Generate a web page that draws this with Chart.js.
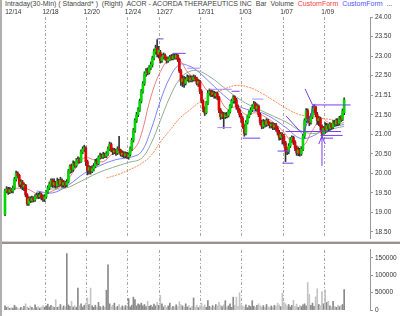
<!DOCTYPE html>
<html>
<head>
<meta charset="utf-8">
<script src="https://cdn.jsdelivr.net/npm/chart.js@4.4.1/dist/chart.umd.min.js"></script>
<style>
  body { margin: 0; width: 400px; height: 316px; position: relative; overflow: hidden; background: #fff; }
  #title { position: absolute; left: 5px; top: 0; font: 7px 'Liberation Sans', Arial, sans-serif; line-height: 8px; color: #444; white-space: nowrap; }
  #title .r { color: #ff3b3b; }
  #title .b { color: #5050ff; }
  canvas { position: absolute; left: 0; }
  #price { top: 0; }
  #volume { top: 244px; }
  .sep { position: absolute; left: 0; width: 400px; top: 241px; height: 1px; background: #d8d4d0; }
  .sep2 { position: absolute; left: 0; width: 400px; top: 242px; height: 2px; background: #9b938b; }
  .lft { position: absolute; left: 0; top: 0; width: 2px; height: 316px; background: #b0b0b0; }
</style>
</head>
<body>
<div id="title">Intraday(30-Min) ( Standard* )&nbsp; (Right)&nbsp; ACOR - ACORDA THERAPEUTICS INC&nbsp; Bar&nbsp; Volume&nbsp; <span class="r">CustomForm</span>&nbsp; <span class="b">CustomForm</span>&nbsp; ...</div>
<canvas id="price" width="400" height="244"></canvas>
<canvas id="volume" width="400" height="72"></canvas>
<div class="sep"></div><div class="sep2"></div><div class="lft"></div>
<script>
// Dates on top (bar index where each day starts)
const dayLabels = ['12/14', '12/18', '12/20', '12/24', '12/27', '12/31', '1/03', '1/07', '1/09'];
const dayStarts = [2, 26, 52, 78, 98, 124, 150, 176, 202];

// 30-min bars, 12/14 .. 1/09 (one row per day)
const opens = [
  18.95,19.55,19.60,19.52,19.58,19.55,19.62,19.85,20.00,19.95,19.72,19.78,19.65,
  19.70,19.45,19.22,19.35,19.30,19.36,19.32,19.40,19.44,19.40,19.45,19.38,19.34,
  19.40,19.52,19.63,19.72,19.82,19.70,19.76,19.68,19.80,19.72,19.82,19.70,19.76,
  19.70,19.78,20.05,20.18,20.10,20.25,20.20,20.32,20.36,20.30,20.55,20.62,20.65,
  20.30,20.08,20.15,20.05,20.12,20.18,20.30,20.25,20.40,20.45,20.42,20.48,20.44,
  20.50,20.62,20.75,20.60,20.55,20.58,20.52,20.62,20.58,20.48,20.52,20.45,20.50,
  20.42,20.48,20.62,20.85,21.10,21.35,21.50,
  21.62,21.85,22.10,22.30,22.55,22.62,22.58,22.70,22.78,22.95,23.12,23.20,23.05,
  23.10,22.88,22.98,23.02,22.95,22.88,22.92,22.98,22.94,23.00,22.96,23.02,22.92,
  22.62,22.35,22.42,22.30,22.40,22.45,22.38,22.44,22.40,22.46,22.42,22.30,22.35,
  22.10,21.85,21.65,21.55,21.80,22.05,22.10,22.02,22.06,21.98,22.04,21.95,21.62,
  21.45,21.52,21.45,21.50,21.48,21.58,21.72,21.85,21.95,21.88,21.70,21.62,21.50,
  21.40,21.20,21.02,21.30,21.45,21.55,21.62,21.70,21.78,21.65,21.72,21.50,21.30,
  21.20,21.32,21.25,21.35,21.28,21.22,21.26,21.18,21.24,21.15,21.05,20.92,21.00,
  20.95,20.78,20.58,20.55,20.70,20.85,20.92,20.80,20.65,20.52,20.60,20.50,20.62,
  20.95,21.35,21.60,21.40,21.30,21.45,21.65,21.70,21.50,21.35,21.40,21.20,21.02,
  21.15,21.10,21.22,21.15,21.25,21.18,21.30,21.26,21.35,21.28,21.42,21.38,21.55
];
const highs = [
  19.60,19.66,19.64,19.64,19.62,19.68,19.90,20.06,20.04,19.98,19.84,19.82,19.76,
  19.72,19.48,19.40,19.40,19.42,19.40,19.46,19.50,19.50,19.52,19.50,19.44,19.45,
  19.56,19.68,19.78,19.86,19.86,19.86,19.80,19.88,19.85,19.90,19.86,19.82,19.80,
  19.84,20.10,20.22,20.24,20.32,20.30,20.38,20.42,20.40,20.60,20.68,20.72,20.68,
  20.34,20.20,20.18,20.20,20.25,20.36,20.38,20.45,20.52,20.50,20.54,20.52,20.56,
  20.68,20.80,20.78,20.65,20.64,20.62,20.68,20.95,20.62,20.58,20.56,20.55,20.54,
  20.52,20.68,20.90,21.15,21.40,21.56,21.68,
  21.90,22.15,22.35,22.60,22.68,22.70,22.76,22.85,23.00,23.18,23.28,23.42,23.25,
  23.15,23.05,23.08,23.06,22.98,22.98,23.02,23.04,23.06,23.05,23.06,23.04,22.95,
  22.66,22.50,22.48,22.46,22.52,22.50,22.50,22.48,22.52,22.50,22.46,22.40,22.38,
  22.14,21.88,21.70,21.84,22.12,22.16,22.14,22.12,22.10,22.08,22.08,21.98,21.66,
  21.58,21.56,21.55,21.56,21.62,21.76,21.90,21.99,21.98,21.92,21.75,21.66,21.54,
  21.45,21.25,21.35,21.48,21.60,21.68,21.76,21.84,21.82,21.78,21.75,21.54,21.36,
  21.38,21.36,21.40,21.38,21.32,21.30,21.30,21.28,21.28,21.20,21.10,21.05,21.04,
  21.00,20.82,20.66,20.76,20.92,20.96,20.95,20.84,20.70,20.66,20.64,20.68,21.00,
  21.40,21.66,21.65,21.45,21.52,21.72,21.75,21.72,21.56,21.46,21.44,21.24,21.20,
  21.30,21.28,21.26,21.30,21.28,21.35,21.36,21.40,21.40,21.46,21.48,21.65,21.93
];
const lows = [
  18.92,19.50,19.46,19.48,19.50,19.50,19.58,19.80,19.88,19.66,19.62,19.58,19.56,
  19.40,19.18,19.18,19.25,19.26,19.27,19.28,19.36,19.35,19.36,19.32,19.28,19.28,
  19.36,19.48,19.58,19.66,19.64,19.64,19.62,19.64,19.66,19.68,19.64,19.64,19.64,
  19.66,19.75,20.00,20.02,20.05,20.14,20.16,20.26,20.26,20.28,20.50,20.56,20.20,
  19.96,19.98,19.98,20.02,20.06,20.14,20.20,20.22,20.36,20.38,20.38,20.40,20.40,
  20.46,20.58,20.55,20.48,20.50,20.46,20.48,20.52,20.44,20.42,20.40,20.40,20.38,
  20.36,20.44,20.58,20.80,21.05,21.30,21.45,
  21.58,21.80,22.05,22.25,22.48,22.52,22.54,22.65,22.72,22.90,23.05,22.98,22.95,
  22.82,22.84,22.92,22.90,22.82,22.84,22.88,22.90,22.90,22.92,22.92,22.86,22.58,
  22.25,22.22,22.20,22.26,22.36,22.33,22.34,22.34,22.36,22.36,22.26,22.22,22.04,
  21.80,21.58,21.48,21.52,21.76,22.00,21.96,21.96,21.92,21.92,21.88,21.55,21.38,
  21.40,21.15,21.40,21.42,21.44,21.54,21.68,21.80,21.80,21.64,21.56,21.44,21.30,
  21.15,20.95,20.98,21.26,21.42,21.50,21.58,21.66,21.60,21.60,21.45,21.24,21.14,
  21.15,21.18,21.20,21.22,21.16,21.16,21.12,21.12,21.08,20.98,20.85,20.86,20.75,
  20.72,20.30,20.48,20.50,20.66,20.80,20.74,20.58,20.46,20.45,20.44,20.46,20.58,
  20.90,21.30,21.30,21.22,21.26,21.40,21.55,21.45,21.25,21.22,21.10,20.95,21.00,
  21.02,21.05,21.08,21.10,21.12,21.14,21.20,21.22,21.22,21.24,21.32,21.35,21.50
];
const closes = [
  19.55,19.60,19.52,19.58,19.55,19.62,19.85,20.00,19.95,19.72,19.78,19.65,19.70,
  19.45,19.22,19.35,19.30,19.36,19.32,19.40,19.44,19.40,19.45,19.38,19.34,19.40,
  19.52,19.63,19.72,19.82,19.70,19.76,19.68,19.80,19.72,19.82,19.70,19.76,19.70,
  19.78,20.05,20.18,20.10,20.25,20.20,20.32,20.36,20.30,20.55,20.62,20.65,20.30,
  20.08,20.15,20.05,20.12,20.18,20.30,20.25,20.40,20.45,20.42,20.48,20.44,20.50,
  20.62,20.75,20.60,20.55,20.58,20.52,20.62,20.58,20.48,20.52,20.45,20.50,20.42,
  20.48,20.62,20.85,21.10,21.35,21.50,21.62,
  21.85,22.10,22.30,22.55,22.62,22.58,22.70,22.78,22.95,23.12,23.20,23.05,23.15,
  22.88,22.98,23.02,22.95,22.88,22.92,22.98,22.94,23.00,22.96,23.02,22.92,22.62,
  22.35,22.42,22.30,22.40,22.45,22.38,22.44,22.40,22.46,22.42,22.30,22.35,22.10,
  21.85,21.65,21.55,21.80,22.05,22.10,22.02,22.06,21.98,22.04,21.95,21.62,21.45,
  21.52,21.45,21.50,21.48,21.58,21.72,21.85,21.95,21.88,21.70,21.62,21.50,21.40,
  21.20,21.02,21.30,21.45,21.55,21.62,21.70,21.78,21.65,21.72,21.50,21.30,21.20,
  21.32,21.25,21.35,21.28,21.22,21.26,21.18,21.24,21.15,21.05,20.92,21.00,20.95,
  20.78,20.58,20.55,20.70,20.85,20.92,20.80,20.65,20.52,20.60,20.50,20.62,20.95,
  21.35,21.60,21.40,21.30,21.45,21.65,21.70,21.50,21.35,21.40,21.20,21.02,21.15,
  21.10,21.22,21.15,21.25,21.18,21.30,21.26,21.35,21.28,21.42,21.38,21.60,21.88
];
const volumes = [
  12000,8000,10000,5000,7000,6000,14000,9000,6000,4000,8000,5000,11000,
  18000,9000,6000,12000,8000,5000,15000,7000,10000,6000,9000,13000,8000,
  12000,17000,9000,14000,11000,8000,30000,8000,10000,16000,7000,12000,9000,
  162000,15000,11000,25000,9000,13000,8000,63000,12000,18000,9000,14000,20000,
  35000,16000,63000,12000,8000,14000,9000,22000,10000,7000,12000,9000,57000,
  130000,18000,10000,14000,20000,8000,11000,16000,7000,12000,9000,13000,10000,
  33000,9000,14000,37000,30000,12000,18000,
  15000,20000,12000,16000,10000,25000,11000,14000,9000,17000,12000,22000,14000,
  42000,18000,9000,14000,8000,12000,20000,7000,11000,9000,15000,10000,24000,
  16000,12000,8000,18000,9000,13000,6000,11000,35000,9000,14000,7000,12000,
  20000,10000,15000,8000,27000,11000,7000,13000,9000,16000,12000,22000,14000,
  10000,15000,27000,9000,12000,18000,8000,37000,14000,37000,11000,50000,16000,
  12000,9000,15000,7000,13000,10000,27000,11000,8000,14000,18000,12000,9000,
  13000,8000,16000,10000,7000,12000,9000,14000,11000,20000,15000,10000,48000,
  22000,18000,12000,16000,9000,14000,28000,11000,17000,8000,13000,10000,15000,
  18000,12000,79000,45000,14000,20000,11000,38000,61000,16000,12000,53000,18000,
  58000,22000,26000,12000,9000,25000,11000,8000,14000,10000,13000,16000,59000
];

// moving averages at a few bars: [bar, price]
const maFast = [[5,19.62],[14,19.6],[22,19.45],[30,19.55],[38,19.75],[44,20.1],[50,20.4],[56,20.35],[62,20.3],[68,20.5],[76,20.52],[82,20.65],[86,21.0],[92,21.95],[98,22.6],[104,22.92],[110,22.9],[116,22.55],[122,22.42],[128,22.1],[134,22.0],[140,21.65],[146,21.7],[152,21.5],[158,21.55],[164,21.45],[170,21.28],[176,21.05],[182,20.75],[188,20.7],[194,21.1],[200,21.4],[206,21.25],[214,21.3]];
const maMid = [[20,19.55],[30,19.5],[40,19.7],[50,20.0],[60,20.2],[70,20.35],[80,20.42],[86,20.55],[92,21.1],[98,21.85],[104,22.45],[110,22.78],[116,22.75],[122,22.6],[130,22.3],[138,22.0],[146,21.75],[154,21.62],[162,21.55],[170,21.38],[178,21.15],[186,20.9],[194,20.95],[202,21.15],[208,21.2],[214,21.25]];
const maSlow = [[28,19.6],[38,19.62],[48,19.8],[58,20.0],[68,20.15],[78,20.28],[86,20.38],[92,20.75],[98,21.35],[104,21.95],[110,22.4],[116,22.6],[122,22.62],[130,22.45],[138,22.2],[146,21.95],[154,21.75],[162,21.6],[170,21.45],[178,21.3],[186,21.1],[194,21.02],[202,21.08],[208,21.15],[214,21.2]];
const maLong = [[64,19.88],[72,19.98],[80,20.12],[86,20.25],[92,20.45],[98,20.8],[104,21.1],[110,21.4],[116,21.6],[122,21.8],[130,22.0],[138,22.15],[146,22.25],[154,22.2],[162,22.05],[170,21.85],[178,21.65],[186,21.5],[194,21.45],[202,21.4],[210,21.35],[214,21.35]];

// drawn forms, [bar, price] points
const forms = [
  [[96,23.44],[100,23.44]],
  [[106,23.07],[114,23.07]],
  [[143,22.1],[148,22.1]],
  [[150,20.9],[161,20.9]],
  [[172,20.57],[180,20.57]],
  [[175,20.26],[182,20.26]],
  [[177.3,21.47],[187.4,21.02]],
  [[189.3,22.16],[194.3,21.73]],
  [[188,21.02],[195.6,21.78]],
  [[194.3,21.75],[218,21.75]],
  [[177,21.07],[212,21.07]],
  [[199,20.97],[213,20.97]],
  [[199,20.9],[207,20.9]],
  [[200,20.19],[200,20.97]],
  [[198,20.75],[200,20.95],[202,20.75]]
];
const formsLight = [
  [[115,22.69],[123,22.69]],
  [[129,22.15],[143,22.15]],
  [[134,21.17],[143,21.17]],
  [[156,21.9],[163,21.9]]
];

const priceTicks = [18.5, 19, 19.5, 20, 20.5, 21, 21.5, 22, 22.5, 23, 23.5, 24];
const lastPrice = '21.51';
const volTicks = [0, 50000, 100000, 150000];

const xMin = -1.89, xMax = 230.3;
const font = { family: "'Liberation Sans', Arial, sans-serif", size: 6.5 };

const up = closes.map((c, i) => c >= opens[i]);
const tickPos = dayStarts.map((d, i) => i === 0 ? d : d - 0.5);

function xAxis(showLabels) {
  return {
    type: 'linear', position: 'top', min: xMin, max: xMax, offset: false,
    afterFit: s => { s.height = showLabels ? 12 : 1; },
    afterBuildTicks: s => { s.ticks = tickPos.map(v => ({ value: v })); },
    ticks: { display: showLabels, autoSkip: false, maxRotation: 0, align: 'start', labelOffset: -3, padding: 1,
      font: font, color: '#333', callback: (v, i) => dayLabels[i] },
    grid: { drawTicks: false, offset: false, lineWidth: 1,
      color: ctx => ctx.index === 0 ? 'rgba(0,0,0,0)' : '#a8a8a8' },
    border: { display: false, dash: [3, 2, 1, 2] }
  };
}

const lineSet = (pts, color, dash) => ({
  type: 'line', data: pts.map(p => ({ x: p[0], y: p[1] })), borderColor: color, borderWidth: 1,
  borderDash: dash || [], pointRadius: 0, tension: 0.4, order: 5
});
const formSet = (pts, color) => ({
  type: 'line', data: pts.map(p => ({ x: p[0], y: p[1] })), borderColor: color, borderWidth: 1,
  pointRadius: 0, tension: 0, order: 0
});

const idx = closes.map((c, i) => i);

new Chart(document.getElementById('price'), {
  type: 'bar',
  data: {
    datasets: [
      lineSet(maLong, '#ff8a50', [2, 1]),
      lineSet(maSlow, '#8fae8f'),
      lineSet(maMid, '#7f7fff'),
      lineSet(maFast, '#f47c7c'),
      { data: idx.map(i => ({ x: i, y: [lows[i], highs[i]] })), backgroundColor: '#333', barThickness: 1,
        grouped: false, order: 3 },
      { data: idx.map(i => ({ x: i, y: [opens[i], closes[i]] })),
        backgroundColor: idx.map(i => up[i] ? '#00d800' : '#e00000'), barThickness: 2, minBarLength: 1,
        grouped: false, order: 2 },
      ...forms.map(f => formSet(f, '#7a3cf0')),
      ...formsLight.map(f => formSet(f, '#a58cff'))
    ]
  },
  options: {
    responsive: false, animation: false, events: [],
    layout: { padding: { left: 2, top: 5, right: 0, bottom: 3 } },
    plugins: { legend: { display: false }, tooltip: { enabled: false } },
    scales: {
      x: xAxis(true),
      y: {
        position: 'right', min: 24 - 224 / 39.6, max: 24, beginAtZero: false,
        afterFit: s => { s.width = 30; },
        afterBuildTicks: s => { s.ticks = priceTicks.map(v => ({ value: v })); },
        ticks: { font: font, color: '#333', padding: 2,
          callback: v => v === 22 ? lastPrice : v.toFixed(2) },
        grid: { drawOnChartArea: false, tickLength: 3, color: '#999' },
        border: { color: '#999' }
      }
    }
  }
});

new Chart(document.getElementById('volume'), {
  type: 'bar',
  data: {
    datasets: [{
      data: idx.map(i => ({ x: i, y: volumes[i] })),
      backgroundColor: idx.map(i => up[i] ? '#8a8a8a' : '#c4c4c4'), barThickness: 1
    }]
  },
  options: {
    responsive: false, animation: false, events: [],
    layout: { padding: { left: 2, top: 0, right: 0, bottom: 2 } },
    plugins: { legend: { display: false }, tooltip: { enabled: false } },
    scales: {
      x: xAxis(false),
      y: {
        position: 'right', min: 0, max: 172500,
        afterFit: s => { s.width = 30; },
        afterBuildTicks: s => { s.ticks = volTicks.map(v => ({ value: v })); },
        ticks: { font: font, color: '#333', padding: 2, callback: v => String(v) },
        grid: { drawOnChartArea: false, tickLength: 3, color: '#999' },
        border: { color: '#999' }
      }
    }
  }
});
</script>
</body>
</html>
